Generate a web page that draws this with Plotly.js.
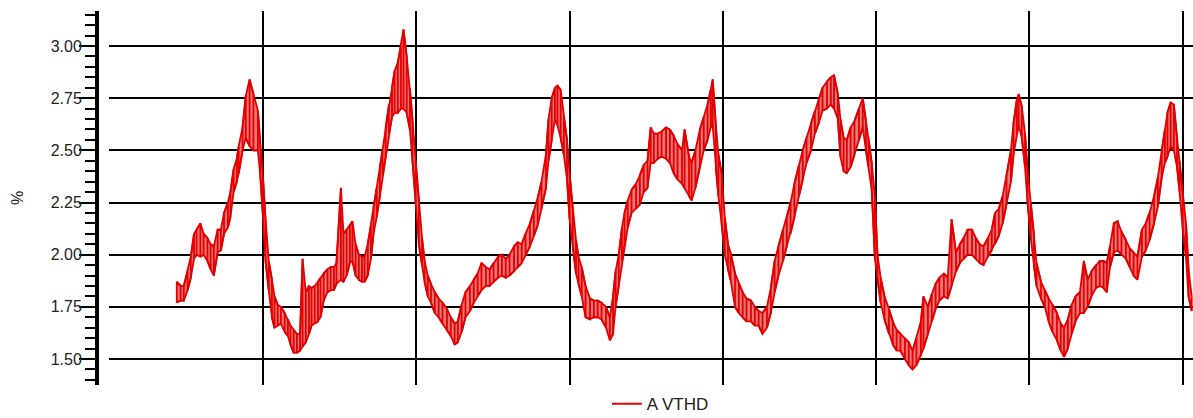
<!DOCTYPE html>
<html>
<head>
<meta charset="utf-8">
<script src="https://cdn.plot.ly/plotly-3.0.1.min.js"></script>
<style>html,body{margin:0;padding:0;background:#fff;}#chart{width:1193px;height:418px;}</style>
</head>
<body>
<div id="chart"></div>
<script>
// Time since start of first day (hours)
const hours = [10.5,11.1,11.6,12.2,12.7,13.2,13.6,14.2,14.7,15.3,15.8,16.3,16.9,17.4,17.9,18.5,18.9,19.4,19.9,20.2,20.8,21.3,21.9,22.5,23.2,23.6,24.0,24.4,24.9,25.4,25.8,26.3,26.8,27.4,27.9,28.3,28.8,29.3,29.8,30.2,30.7,31.2,31.6,32.1,32.6,33.0,33.5,34.1,34.6,35.1,35.5,36.2,36.6,37.1,37.6,38.0,38.5,39.0,39.5,39.9,40.4,40.9,41.3,41.8,42.3,42.7,43.2,43.7,44.2,44.6,45.1,45.6,46.0,46.5,47.0,47.4,47.9,48.4,48.9,49.3,49.8,50.3,50.9,51.5,52.1,52.8,53.4,54.0,54.5,55.1,55.7,56.4,57.0,57.6,58.2,58.9,59.5,60.1,60.8,61.4,62.0,62.6,63.3,63.9,64.5,65.1,65.8,66.4,67.0,67.6,68.3,68.7,69.2,69.7,70.1,70.6,71.1,71.6,72.0,72.5,73.0,73.4,73.9,74.5,75.2,75.8,76.4,77.0,77.7,78.3,78.8,79.2,79.7,80.2,80.6,81.1,81.7,82.4,83.0,83.6,84.2,84.7,85.2,85.8,86.4,87.1,87.7,88.3,88.9,89.6,90.0,90.7,91.1,91.7,92.4,93.0,93.6,94.1,94.4,94.9,95.3,95.8,96.3,96.8,97.2,97.9,98.5,99.1,99.7,100.4,101.0,101.6,102.2,102.9,103.5,104.1,104.7,105.4,106.0,106.6,107.2,107.9,108.5,109.1,109.8,110.4,111.0,111.6,112.3,112.9,113.4,114.0,114.4,114.9,115.4,116.0,116.6,117.3,117.9,118.4,118.8,119.3,119.8,120.2,120.7,121.3,122.0,122.6,123.2,123.8,124.5,125.1,125.7,126.3,127.0,127.4,128.1,128.7,129.3,129.9,130.6,131.2,131.8,132.5,133.1,133.7,134.3,135.0,135.6,136.2,136.8,137.5,138.1,138.6,139.2,139.8,140.4,141.1,141.5,142.0,142.3,142.8,143.3,143.7,144.2,144.7,145.1,145.8,146.4,147.0,147.6,148.3,148.9,149.4,150.0,150.6,151.2,151.9,152.5,153.1,153.7,154.4,155.0,155.6,156.1,156.6,157.2,157.8,158.4,159.1,159.7,160.3,160.9,161.6,162.2,162.8,163.5,164.1,164.7,165.2,165.6,166.1,166.6,167.1,167.5,168.0,168.5,168.9,169.4];
// Lower and upper values of the A VTHD trace at each time (%)
const vthdLow = [1.77,1.78,1.78,1.83,1.89,1.98,2.00,1.99,2.00,1.97,1.93,1.90,2.01,2.02,2.10,2.13,2.18,2.30,2.35,2.39,2.50,2.56,2.52,2.50,2.50,2.37,2.18,1.97,1.83,1.70,1.65,1.66,1.67,1.63,1.61,1.57,1.53,1.53,1.54,1.56,1.58,1.62,1.66,1.67,1.68,1.70,1.78,1.82,1.83,1.83,1.86,1.88,1.87,1.90,1.96,1.97,1.90,1.88,1.87,1.87,1.90,1.98,2.10,2.18,2.28,2.38,2.47,2.58,2.66,2.68,2.68,2.70,2.70,2.68,2.60,2.45,2.25,2.05,1.95,1.87,1.80,1.77,1.72,1.70,1.67,1.64,1.61,1.57,1.58,1.63,1.70,1.73,1.77,1.80,1.83,1.85,1.85,1.87,1.89,1.90,1.89,1.90,1.92,1.94,1.96,2.00,2.04,2.09,2.14,2.22,2.32,2.45,2.55,2.65,2.62,2.56,2.48,2.36,2.17,2.04,1.91,1.86,1.80,1.70,1.69,1.70,1.70,1.69,1.65,1.59,1.62,1.75,1.85,1.97,2.05,2.13,2.20,2.22,2.24,2.30,2.32,2.44,2.44,2.46,2.47,2.46,2.44,2.39,2.36,2.34,2.32,2.28,2.26,2.32,2.42,2.50,2.55,2.61,2.62,2.41,2.28,2.15,2.00,1.93,1.88,1.75,1.72,1.70,1.68,1.68,1.66,1.66,1.62,1.65,1.72,1.82,1.90,1.97,2.04,2.10,2.18,2.28,2.36,2.44,2.50,2.58,2.63,2.69,2.70,2.72,2.70,2.65,2.47,2.40,2.39,2.42,2.48,2.55,2.61,2.50,2.42,2.31,1.98,1.88,1.77,1.69,1.62,1.57,1.54,1.54,1.50,1.47,1.45,1.47,1.52,1.55,1.62,1.68,1.74,1.78,1.80,1.79,1.85,1.92,1.96,1.98,2.00,2.00,1.98,1.96,1.95,1.99,2.02,2.05,2.09,2.15,2.24,2.35,2.48,2.58,2.62,2.56,2.42,2.25,2.08,1.95,1.85,1.79,1.75,1.68,1.63,1.59,1.54,1.51,1.55,1.62,1.68,1.72,1.72,1.75,1.80,1.84,1.85,1.84,1.82,1.94,2.01,2.02,2.00,1.98,1.94,1.90,1.88,1.99,2.02,2.07,2.15,2.23,2.37,2.44,2.47,2.52,2.50,2.42,2.30,2.12,1.99,1.80,1.73];
const vthdHigh = [1.87,1.85,1.85,1.92,1.99,2.10,2.12,2.15,2.10,2.08,2.05,2.04,2.12,2.12,2.20,2.25,2.30,2.41,2.46,2.52,2.61,2.76,2.84,2.77,2.69,2.52,2.37,2.17,1.97,1.88,1.80,1.76,1.75,1.72,1.69,1.66,1.64,1.62,1.62,1.98,1.82,1.85,1.84,1.85,1.87,1.89,1.91,1.93,1.94,1.94,1.96,2.32,2.10,2.12,2.14,2.16,2.05,2.00,1.99,1.99,2.05,2.14,2.23,2.32,2.42,2.50,2.61,2.72,2.80,2.88,2.92,3.00,3.08,2.95,2.80,2.65,2.45,2.26,2.08,1.97,1.90,1.86,1.82,1.79,1.77,1.74,1.70,1.67,1.68,1.76,1.82,1.85,1.88,1.91,1.96,1.94,1.93,1.96,1.99,2.00,1.98,2.00,2.04,2.06,2.05,2.10,2.15,2.21,2.27,2.35,2.48,2.65,2.75,2.80,2.81,2.79,2.66,2.55,2.39,2.21,2.07,1.99,1.94,1.85,1.79,1.78,1.78,1.77,1.75,1.70,1.80,1.92,2.00,2.13,2.20,2.26,2.31,2.34,2.38,2.43,2.45,2.61,2.58,2.58,2.59,2.61,2.60,2.57,2.53,2.50,2.60,2.47,2.44,2.50,2.60,2.66,2.72,2.79,2.84,2.62,2.48,2.39,2.18,2.05,2.01,1.91,1.86,1.82,1.79,1.78,1.75,1.73,1.72,1.75,1.84,1.97,2.04,2.12,2.18,2.25,2.34,2.43,2.50,2.56,2.63,2.69,2.74,2.80,2.83,2.85,2.86,2.77,2.65,2.56,2.55,2.61,2.64,2.70,2.75,2.64,2.56,2.44,2.28,2.00,1.89,1.80,1.74,1.68,1.64,1.62,1.60,1.58,1.54,1.60,1.68,1.80,1.75,1.81,1.86,1.89,1.91,1.89,2.17,2.01,2.05,2.08,2.12,2.12,2.08,2.05,2.04,2.08,2.12,2.20,2.22,2.28,2.38,2.50,2.63,2.74,2.77,2.71,2.58,2.40,2.25,2.10,1.96,1.87,1.83,1.79,1.76,1.72,1.67,1.65,1.69,1.76,1.80,1.82,1.97,1.88,1.92,1.95,1.97,1.97,1.96,2.04,2.15,2.16,2.11,2.07,2.03,2.01,1.99,2.12,2.15,2.20,2.28,2.37,2.50,2.60,2.68,2.73,2.72,2.56,2.45,2.28,2.15,1.93,1.80];
const traceName = "A VTHD";
const yTickVals = [1.50,1.75,2.00,2.25,2.50,2.75,3.00];
const yTickText = ["1.50","1.75","2.00","2.25","2.50","2.75","3.00"];

const RED = 'rgb(228,0,0)';

// Dense trace: each reading drawn as a vertical stroke between its low and high values
const xs = [], ys = [];
for (let i = 0; i < hours.length; i++) {
  if (i % 2 === 0) { xs.push(hours[i], hours[i]); ys.push(vthdLow[i], vthdHigh[i]); }
  else { xs.push(hours[i], hours[i]); ys.push(vthdHigh[i], vthdLow[i]); }
}

const bandTop = {
  x: hours, y: vthdHigh, type: 'scatter', mode: 'lines',
  line: {color: RED, width: 1.8}, showlegend: false, hoverinfo: 'skip'
};
const bandBottom = {
  x: hours, y: vthdLow, type: 'scatter', mode: 'lines',
  line: {color: RED, width: 1.8}, fill: 'tonexty', fillcolor: 'rgb(238,120,120)',
  showlegend: false, hoverinfo: 'skip'
};
const trace = {
  x: xs, y: ys, type: 'scatter', mode: 'lines', name: traceName,
  line: {color: RED, width: 1.8},
  showlegend: true
};

const layout = {
  width: 1193, height: 418,
  margin: {l: 97, r: 0, t: 11, b: 33, pad: 0},
  paper_bgcolor: '#fff', plot_bgcolor: '#fff',
  font: {family: 'Liberation Sans, Arial, sans-serif', size: 16, color: '#222'},
  showlegend: true,
  legend: {orientation: 'h', x: 0.514, xanchor: 'center', yref: 'container', y: 0.033, yanchor: 'middle',
           font: {size: 17, color: '#222'}, bgcolor: 'rgba(0,0,0,0)'},
  xaxis: {
    domain: [0.011, 1], range: [-0.1, 169.6],
    showgrid: true, gridcolor: '#000', gridwidth: 2, dtick: 24, tick0: 0,
    showticklabels: false, ticks: '', showline: false, zeroline: false
  },
  yaxis: {
    anchor: 'free', position: 0, range: [1.3754, 3.1677],
    tickvals: yTickVals, ticktext: yTickText,
    showgrid: true, gridcolor: '#000', gridwidth: 2, zeroline: false,
    showline: true, linecolor: '#000', linewidth: 4,
    ticks: 'outside', ticklen: 16, tickwidth: 2, tickcolor: '#000',
    ticklabelstandoff: -6,
    minor: {dtick: 0.05, tick0: 0, ticks: 'outside', ticklen: 10, tickwidth: 2, tickcolor: '#000', showgrid: false},
    tickfont: {size: 16, color: '#222'},
    title: {text: '%', font: {size: 16, color: '#222'}, standoff: 22},
    automargin: false
  }
};

Plotly.newPlot('chart', [bandTop, bandBottom, trace], layout, {displayModeBar: false, staticPlot: true});
</script>
</body>
</html>
